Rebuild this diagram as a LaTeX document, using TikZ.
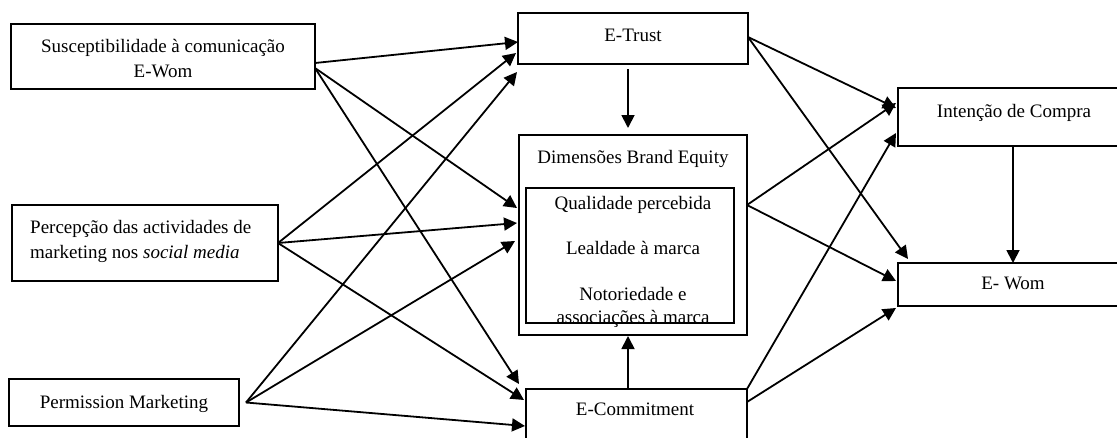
\documentclass[tikz,border=0pt]{standalone}
\usepackage{fontspec}
\setmainfont{Liberation Serif}
\usetikzlibrary{arrows.meta,calc}
\begin{document}
\begin{tikzpicture}[x=1pt,y=-1pt,
  box/.style={draw, line width=1.5pt, inner sep=0pt, outer sep=0pt, anchor=north west},
  lbl/.style={font=\fontsize{19}{23}\selectfont, inner sep=0pt, anchor=base},
  lbll/.style={lbl, anchor=base west},
  link/.style={line width=1.8pt, -{Triangle[length=13pt,width=13pt]}},
]
\path[use as bounding box] (0,0) rectangle (1117,437);
\clip (0,0) rectangle (1117,437);

% boxes
\node[box, minimum width=304pt, minimum height=65pt] (susc) at (11,24) {};
\node[box, minimum width=266pt, minimum height=76pt] (perc) at (12,205) {};
\node[box, minimum width=230pt, minimum height=47pt] (perm) at (9,379) {};
\node[box, minimum width=230pt, minimum height=51pt] (trust) at (518,13) {};
\node[box, line width=1.2pt, minimum width=228pt, minimum height=200pt] (dim) at (519,135) {};
\node[box, minimum width=208pt, minimum height=135pt] (qual) at (526,188) {};
\node[box, minimum width=221pt, minimum height=50pt] (ecom) at (526,389) {};
\node[box, minimum width=232pt, minimum height=58pt] (inten) at (898,88) {};
\node[box, minimum width=232pt, minimum height=43pt] (ewom) at (898,263) {};

% labels
\node[lbl] (t-susc1) at (163,52.5) {Susceptibilidade à comunicação};
\node[lbl] (t-susc2) at (163,77.5) {E-Wom};
\node[lbll] (t-perc1) at (30,233) {Percepção das actividades de};
\node[lbll] (t-perc2) at (30,258) {marketing nos \textit{social media}};
\node[lbl] (t-perm) at (124,408) {Permission Marketing};
\node[lbl] (t-trust) at (633,41) {E-Trust};
\node[lbl] (t-dim) at (633,163) {Dimensões Brand Equity};
\node[lbl] (t-qual) at (633,209) {Qualidade percebida};
\node[lbl] (t-leal) at (633,254) {Lealdade à marca};
\node[lbl] (t-noto) at (633,300) {Notoriedade e};
\node[lbl] (t-assoc) at (633,323) {associações à marca};
\node[lbl] (t-ecom) at (635,415) {E-Commitment};
\node[lbl] (t-inten) at (1014,117) {Intenção de Compra};
\node[lbl] (t-ewom) at (1013,289) {E- Wom};

% antecedents
\draw[link] ($(susc.east)+(0,6.5)$) -- ($(trust.west)+(0,3.5)$);
\draw[link] ($(susc.east)+(0,11.5)$) -- ($(dim.west)+(-2,-27)$);
\draw[link] ($(susc.east)+(0,11.5)$) -- ($(ecom.north west)+(-7,-5)$);
\draw[link] (perc.east) -- ($(trust.west)+(-2,14.5)$);
\draw[link] (perc.east) -- ($(dim.west)+(-2,-12)$);
\draw[link] (perc.east) -- ($(ecom.north west)+(-2,11)$);
\draw[link] ($(perm.east)+(7,0)$) -- ($(trust.south west)+(-1,8)$);
\draw[link] ($(perm.east)+(7,0)$) -- ($(dim.west)+(-4,6)$);
\draw[link] ($(perm.east)+(7,0)$) -- ($(ecom.north west)+(-1,37)$);

% mediators
\draw[link] ($(trust.south)+(-5,5)$) -- ($(dim.north)+(-5,-7)$);
\draw[link] ($(ecom.north)+(-8.5,0)$) -- ($(dim.south)+(-5,1)$);

% outcomes
\draw[link] ($(trust.east)+(0,-1.5)$) -- ($(inten.north west)+(-2,20)$);
\draw[link] ($(trust.east)+(0,-1.5)$) -- ($(ewom.north west)+(10,-4)$);
\draw[link] ($(dim.east)+(0,-30)$) -- ($(inten.north west)+(-2,15)$);
\draw[link] ($(dim.east)+(0,-30)$) -- ($(ewom.north west)+(-2,18)$);
\draw[link] (ecom.north east) -- ($(inten.north west)+(-2,45)$);
\draw[link] ($(ecom.north east)+(0,13)$) -- ($(ewom.south west)+(-2,2)$);
\draw[link] ($(inten.south west)+(115,0)$) -- ($(ewom.north west)+(115,0)$);
\end{tikzpicture}
\end{document}
